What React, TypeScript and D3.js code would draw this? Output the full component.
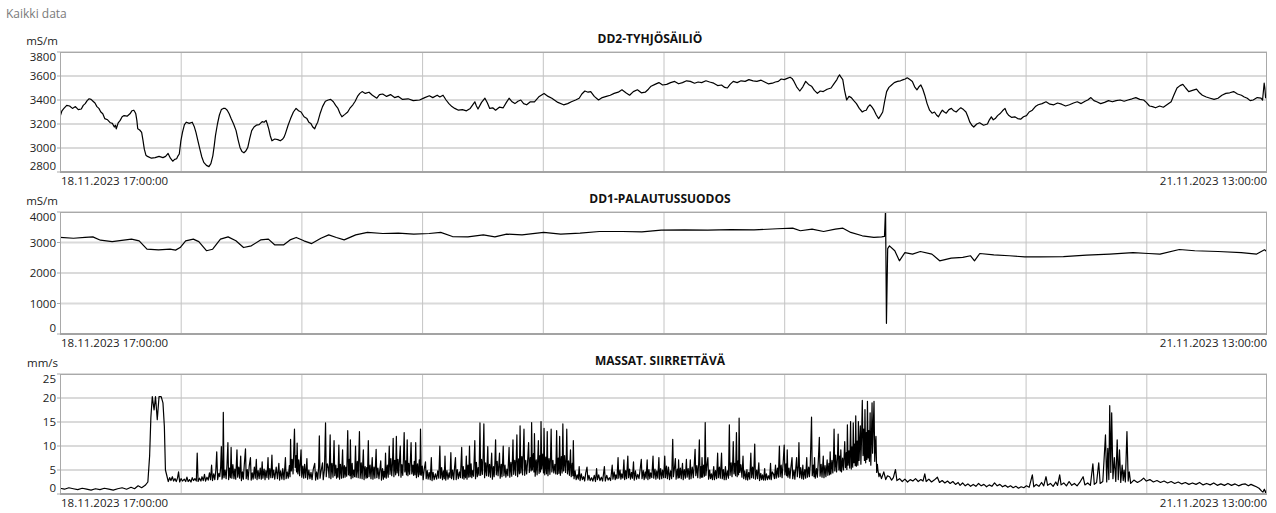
import React from "react";
import * as d3 from "d3";

// Time window shown on all three trends
const startTime = new Date(2023, 10, 18, 17, 0, 0);
const endTime = new Date(2023, 10, 21, 13, 0, 0);
const gridDivisions = 10;

const pageTitle = "Kaikki data";

const dd2Title = "DD2-TYHJÖSÄILIÖ";
const dd2Unit = "mS/m";
const dd2Ticks = [2800, 3000, 3200, 3400, 3600, 3800];
// [hours since start, conductivity mS/m]
const dd2Series: [number, number][] = [
  [0, 3260], [0.11, 3310], [0.22, 3330], [0.38, 3355], [0.54, 3350], [0.7, 3330], [0.87, 3345], [1.03, 3320],
  [1.2, 3325], [1.31, 3355], [1.42, 3370], [1.53, 3395], [1.64, 3410], [1.75, 3405], [1.86, 3390], [1.97, 3375],
  [2.08, 3345], [2.19, 3330], [2.3, 3300], [2.41, 3285], [2.52, 3245], [2.68, 3235], [2.84, 3210], [2.95, 3205],
  [3.06, 3175], [3.12, 3190], [3.17, 3160], [3.28, 3210], [3.39, 3230], [3.5, 3260], [3.61, 3270], [3.78, 3265],
  [3.94, 3285], [4.05, 3310], [4.16, 3315], [4.22, 3300], [4.27, 3285], [4.33, 3230], [4.38, 3160], [4.49, 3150],
  [4.6, 3130], [4.68, 3060], [4.75, 2990], [4.84, 2940], [4.93, 2930], [5.15, 2915], [5.36, 2920], [5.58, 2930],
  [5.8, 2920], [5.95, 2930], [6.09, 2955], [6.22, 2915], [6.35, 2890], [6.46, 2905], [6.57, 2910], [6.65, 2935],
  [6.72, 2950], [6.81, 3060], [6.9, 3130], [7.01, 3195], [7.12, 3215], [7.28, 3205], [7.45, 3215], [7.56, 3180],
  [7.66, 3130], [7.77, 3060], [7.88, 2990], [7.99, 2925], [8.1, 2880], [8.25, 2855], [8.39, 2845], [8.5, 2870],
  [8.61, 2935], [8.69, 3020], [8.76, 3105], [8.87, 3200], [8.98, 3275], [9.09, 3320], [9.2, 3330], [9.31, 3330],
  [9.42, 3315], [9.53, 3285], [9.64, 3245], [9.78, 3200], [9.92, 3145], [10.03, 3070], [10.14, 3005], [10.25, 2970],
  [10.36, 2960], [10.47, 2975], [10.58, 3005], [10.69, 3080], [10.8, 3145], [10.93, 3175], [11.06, 3190], [11.22, 3195],
  [11.39, 3220], [11.5, 3215], [11.61, 3230], [11.68, 3200], [11.76, 3160], [11.85, 3100], [11.94, 3060], [12.1, 3075],
  [12.27, 3070], [12.41, 3060], [12.55, 3075], [12.62, 3090], [12.7, 3120], [12.85, 3190], [12.99, 3245], [13.15, 3300],
  [13.3, 3330], [13.44, 3310], [13.58, 3300], [13.75, 3260], [13.91, 3245], [14.02, 3215], [14.13, 3205], [14.24, 3175],
  [14.35, 3160], [14.43, 3190], [14.52, 3215], [14.66, 3290], [14.79, 3345], [14.95, 3390], [15.11, 3400], [15.25, 3405],
  [15.4, 3385], [15.53, 3355], [15.66, 3330], [15.77, 3290], [15.88, 3260], [16.05, 3280], [16.21, 3300], [16.35, 3335],
  [16.5, 3360], [16.63, 3390], [16.76, 3430], [16.89, 3455], [17.02, 3470], [17.2, 3455], [17.41, 3465], [17.6, 3440],
  [17.85, 3415], [18.0, 3445], [18.18, 3450], [18.4, 3430], [18.62, 3445], [18.85, 3420], [19.06, 3430], [19.3, 3405],
  [19.61, 3410], [19.9, 3395], [20.26, 3400], [20.55, 3420], [20.81, 3435], [21.0, 3420], [21.25, 3440], [21.4, 3425],
  [21.58, 3440], [21.75, 3400], [21.91, 3370], [22.08, 3345], [22.24, 3330], [22.45, 3315], [22.67, 3320], [22.9, 3310],
  [23.11, 3330], [23.25, 3360], [23.37, 3385], [23.46, 3350], [23.55, 3325], [23.75, 3380], [23.94, 3415], [24.08, 3375],
  [24.21, 3330], [24.38, 3335], [24.54, 3315], [24.75, 3340], [24.97, 3335], [25.15, 3380], [25.3, 3415], [25.47, 3385],
  [25.63, 3370], [25.8, 3390], [25.96, 3400], [26.12, 3370], [26.29, 3360], [26.5, 3385], [26.73, 3385], [27.0, 3430],
  [27.27, 3455], [27.5, 3430], [27.71, 3415], [28.05, 3380], [28.37, 3360], [28.6, 3370], [28.81, 3385], [29.05, 3400],
  [29.25, 3415], [29.4, 3450], [29.57, 3475], [29.75, 3465], [29.9, 3470], [30.1, 3430], [30.34, 3400], [30.55, 3420],
  [30.78, 3430], [31.0, 3440], [31.22, 3455], [31.45, 3465], [31.66, 3485], [31.88, 3460], [32.09, 3440], [32.3, 3470],
  [32.53, 3485], [32.75, 3460], [32.97, 3465], [33.15, 3490], [33.3, 3515], [33.52, 3530], [33.74, 3545], [33.95, 3525],
  [34.18, 3530], [34.4, 3545], [34.63, 3555], [34.85, 3535], [35.07, 3545], [35.3, 3560], [35.51, 3555], [35.75, 3540],
  [35.95, 3550], [36.15, 3545], [36.39, 3560], [36.6, 3550], [36.83, 3540], [37.05, 3520], [37.27, 3525], [37.45, 3505],
  [37.6, 3500], [37.75, 3530], [37.93, 3555], [38.15, 3545], [38.37, 3560], [38.6, 3555], [38.81, 3570], [39.05, 3560],
  [39.26, 3555], [39.5, 3565], [39.7, 3550], [39.9, 3535], [40.14, 3540], [40.3, 3550], [40.47, 3555], [40.63, 3575],
  [40.8, 3570], [40.97, 3580], [41.13, 3590], [41.24, 3580], [41.35, 3555], [41.5, 3510], [41.68, 3475], [41.85, 3510],
  [42.01, 3555], [42.17, 3530], [42.34, 3515], [42.5, 3480], [42.67, 3455], [42.83, 3475], [43.0, 3470], [43.22, 3490],
  [43.44, 3500], [43.6, 3535], [43.77, 3570], [43.85, 3595], [43.92, 3610], [44.0, 3590], [44.1, 3570], [44.2, 3480],
  [44.32, 3400], [44.45, 3430], [44.58, 3420], [44.72, 3395], [44.87, 3370], [45.03, 3330], [45.2, 3300], [45.31, 3310],
  [45.42, 3315], [45.53, 3345], [45.64, 3360], [45.75, 3340], [45.86, 3315], [45.99, 3275], [46.12, 3245], [46.23, 3270],
  [46.35, 3300], [46.46, 3390], [46.57, 3470], [46.7, 3505], [46.85, 3525], [47.0, 3545], [47.18, 3555], [47.35, 3560],
  [47.51, 3570], [47.62, 3575], [47.73, 3585], [47.88, 3570], [48.02, 3555], [48.15, 3510], [48.28, 3485], [48.39, 3510],
  [48.5, 3525], [48.61, 3490], [48.72, 3440], [48.85, 3370], [48.99, 3315], [49.13, 3290], [49.27, 3300], [49.38, 3275],
  [49.49, 3260], [49.6, 3290], [49.71, 3315], [49.82, 3300], [49.93, 3290], [50.08, 3320], [50.22, 3330], [50.35, 3310],
  [50.49, 3300], [50.62, 3320], [50.75, 3335], [50.9, 3320], [51.04, 3300], [51.15, 3260], [51.26, 3215], [51.37, 3190],
  [51.48, 3175], [51.65, 3200], [51.81, 3210], [52.03, 3190], [52.25, 3200], [52.36, 3235], [52.47, 3260], [52.58, 3235],
  [52.69, 3245], [52.82, 3270], [52.95, 3285], [53.1, 3310], [53.24, 3330], [53.35, 3290], [53.46, 3270], [53.62, 3255],
  [53.79, 3260], [53.95, 3245], [54.12, 3240], [54.28, 3260], [54.45, 3270], [54.6, 3300], [54.78, 3315], [54.95, 3345],
  [55.11, 3360], [55.33, 3370], [55.55, 3385], [55.77, 3365], [55.99, 3360], [56.2, 3375], [56.43, 3365], [56.65, 3350],
  [56.87, 3360], [57.1, 3375], [57.31, 3385], [57.53, 3370], [57.75, 3390], [57.9, 3400], [58.08, 3420], [58.25, 3395],
  [58.41, 3385], [58.63, 3370], [58.85, 3380], [59.07, 3395], [59.29, 3385], [59.5, 3395], [59.73, 3400], [59.95, 3390],
  [60.17, 3400], [60.4, 3410], [60.61, 3420], [60.83, 3405], [61.05, 3400], [61.2, 3380], [61.38, 3350], [61.55, 3345],
  [61.72, 3335], [61.95, 3350], [62.16, 3340], [62.4, 3365], [62.6, 3385], [62.75, 3440], [62.93, 3500], [63.1, 3520],
  [63.26, 3530], [63.42, 3500], [63.59, 3470], [63.8, 3480], [64.03, 3490], [64.2, 3460], [64.36, 3440], [64.58, 3425],
  [64.8, 3415], [65.02, 3405], [65.24, 3415], [65.46, 3440], [65.68, 3455], [65.9, 3460], [66.12, 3470], [66.34, 3450],
  [66.56, 3440], [66.72, 3425], [66.89, 3415], [67.05, 3395], [67.22, 3400], [67.45, 3420], [67.66, 3415], [67.75, 3400],
  [67.84, 3540], [67.88, 3500], [67.92, 3420], [68, 3410],
];

const dd1Title = "DD1-PALAUTUSSUODOS";
const dd1Unit = "mS/m";
const dd1Ticks = [0, 1000, 2000, 3000, 4000];
const dd1Series: [number, number][] = [
  [0, 3165], [0.76, 3140], [1.41, 3165], [1.85, 3185], [2.28, 3075], [2.94, 3030], [3.59, 3075], [4.03, 3110],
  [4.46, 3055], [4.9, 2780], [5.55, 2760], [6.2, 2780], [6.51, 2750], [6.77, 2835], [7.08, 3055], [7.51, 3110],
  [7.82, 3030], [8.25, 2730], [8.6, 2780], [9.04, 3110], [9.47, 3185], [9.91, 3055], [10.34, 2835], [10.78, 2890],
  [11.3, 3085], [11.74, 3110], [12.09, 2925], [12.61, 2925], [12.96, 3085], [13.31, 3165], [13.74, 3055], [14.18, 2965],
  [14.7, 3140], [15.14, 3250], [15.57, 3165], [16.01, 3085], [16.66, 3250], [17.32, 3330], [18.19, 3295], [19.06, 3305],
  [19.93, 3275], [20.8, 3295], [21.45, 3330], [22.11, 3195], [22.98, 3185], [23.85, 3250], [24.5, 3185], [25.16, 3275],
  [26.03, 3250], [27.25, 3330], [28.21, 3275], [29.3, 3305], [30.39, 3360], [31.69, 3360], [32.78, 3350], [33.87, 3405],
  [35.18, 3415], [36.49, 3405], [37.79, 3425], [39.1, 3415], [40.41, 3450], [41.28, 3470], [41.71, 3385], [42.37, 3440],
  [43.02, 3360], [43.68, 3440], [44.11, 3470], [44.55, 3330], [45.2, 3220], [45.85, 3165], [46.29, 3185], [46.45, 3200],
  [46.51, 4100], [46.56, 350], [46.63, 2800], [46.73, 2890], [47.03, 2730], [47.29, 2400], [47.6, 2670], [48.03, 2620],
  [48.47, 2705], [49.12, 2620], [49.56, 2400], [50.21, 2490], [50.86, 2510], [51.3, 2565], [51.52, 2400], [51.82, 2640],
  [52.61, 2595], [53.48, 2565], [54.35, 2530], [55.22, 2530], [56.53, 2540], [57.83, 2585], [59.14, 2620], [60.45, 2670],
  [61.32, 2640], [61.97, 2620], [63.06, 2770], [63.93, 2730], [65.24, 2705], [66.55, 2670], [67.42, 2620], [67.86, 2760],
  [68, 2700],
];

const massaTitle = "MASSAT. SIIRRETTÄVÄ";
const massaUnit = "mm/s";
const massaTicks = [0, 5, 10, 15, 20, 25];
// [hours since start, speed mm/s]
const massaSeries: [number, number][] = [
  [0, 1.2], [0.25, 1.0], [0.5, 1.3], [0.75, 1.1], [1.0, 0.9], [1.25, 1.2], [1.5, 1.0], [1.75, 0.8], [2.0, 1.1],
  [2.25, 0.9], [2.5, 1.2], [2.75, 1.0], [3.0, 0.8], [3.25, 1.1], [3.5, 1.3], [3.75, 1.0], [4.0, 1.4], [4.2, 1.1],
  [4.4, 1.7], [4.6, 1.3], [4.8, 1.8], [4.95, 2.5], [5.05, 8], [5.12, 16], [5.2, 20.3], [5.3, 17.5], [5.38, 20.3],
  [5.48, 15.5], [5.58, 20.3], [5.7, 20.3], [5.8, 19], [5.88, 14], [5.94, 5],
  [6.02, 3.8], [6.1, 2.6], [6.18, 3.4], [6.25, 2.8], [6.33, 3.6], [6.4, 2.7], [6.48, 3.2], [6.55, 2.6], [6.62, 3.3],
  [6.68, 4.6], [6.74, 2.5], [6.82, 3.2], [6.9, 2.7], [7.0, 3.1], [7.08, 2.6], [7.15, 3.5], [7.22, 2.6], [7.3, 3.0],
  [7.38, 2.5], [7.45, 3.4], [7.52, 2.8], [7.6, 3.2], [7.68, 2.7], [7.73, 8.5], [7.78, 2.6], [7.86, 3.3], [7.94, 2.7],
  [8.0, 3.6], [8.07, 2.8], [8.14, 4.1], [8.2, 2.7], [8.28, 3.5], [8.35, 2.9], [8.42, 4.4], [8.48, 3.0], [8.54, 6],
  [8.59, 2.8], [8.66, 4.2], [8.72, 3.0], [8.78, 5.0], [8.83, 8.8], [8.88, 3.0], [8.95, 4.3], [9.0, 3.6], [9.05, 5.5],
  [9.09, 9.9], [9.13, 3.1], [9.17, 4.0], [9.2, 17], [9.24, 3.4], [9.3, 5.0], [9.36, 3.2], [9.41, 6.2], [9.46, 10.7],
  [9.5, 3.0], [9.55, 5.4], [9.6, 3.4], [9.64, 9.7], [9.68, 3.3], [9.74, 6.1], [9.8, 3.2], [9.85, 5.2], [9.9, 3.1],
  [9.97, 9.2], [10.01, 3.5], [10.07, 5.6], [10.12, 3.3], [10.18, 7.9], [10.22, 2.8], [10.28, 4.6], [10.33, 3.1],
  [10.38, 6.0], [10.45, 9.4], [10.49, 3.2], [10.55, 5.1], [10.6, 3.0], [10.66, 5.8], [10.73, 7.6], [10.77, 2.9],
  [10.83, 4.4], [10.88, 3.1], [10.95, 5.6], [11.0, 3.3], [11.06, 7.2], [11.1, 3.0], [11.16, 4.9], [11.22, 3.2],
  [11.28, 5.4], [11.34, 3.1], [11.39, 6.7], [11.43, 3.3], [11.5, 5.2], [11.55, 3.0], [11.6, 4.9], [11.66, 3.4],
  [11.72, 7.6], [11.76, 3.1], [11.82, 5.3], [11.88, 3.4], [11.94, 8.1], [11.98, 3.4], [12.04, 5.0], [12.1, 3.1],
  [12.18, 5.6], [12.25, 3.2], [12.33, 6.4], [12.37, 2.9], [12.43, 4.8], [12.5, 3.1], [12.55, 5.3], [12.62, 3.0],
  [12.7, 7.6], [12.74, 3.2], [12.8, 4.6], [12.86, 3.3], [12.92, 5.9], [12.96, 3.6], [12.99, 11.4], [13.03, 4.8],
  [13.08, 7.2], [13.13, 4.2], [13.17, 9.0], [13.21, 13.5], [13.25, 5.5], [13.3, 8.0], [13.33, 4.6], [13.36, 10.6],
  [13.4, 4.2], [13.45, 7.1], [13.5, 3.8], [13.54, 6.5], [13.58, 9.2], [13.62, 3.5], [13.68, 5.8], [13.73, 3.3],
  [13.78, 6.2], [13.84, 3.4], [13.91, 7.4], [13.95, 3.1], [14.02, 5.0], [14.08, 3.2], [14.14, 4.5], [14.2, 3.0],
  [14.27, 5.2], [14.35, 6.4], [14.4, 2.9], [14.46, 4.6], [14.52, 3.1], [14.57, 5.5], [14.61, 12.1], [14.65, 3.3],
  [14.72, 5.0], [14.79, 6.5], [14.83, 3.0], [14.9, 5.1], [14.96, 14.8], [15.0, 3.6], [15.06, 6.3], [15.12, 5.4],
  [15.16, 3.4], [15.22, 12.3], [15.26, 3.2], [15.32, 6.4], [15.38, 3.5], [15.44, 11.1], [15.48, 3.8], [15.54, 6.0],
  [15.58, 3.3], [15.62, 5.3], [15.66, 3.5], [15.71, 10.2], [15.75, 3.1], [15.8, 6.2], [15.86, 3.3], [15.92, 9.2],
  [15.96, 3.4], [16.02, 5.9], [16.06, 3.5], [16.1, 5.6], [16.15, 3.7], [16.21, 13.2], [16.25, 4.0], [16.3, 7.2],
  [16.33, 3.8], [16.36, 11.3], [16.4, 3.2], [16.46, 6.4], [16.5, 3.4], [16.55, 5.0], [16.6, 3.6], [16.65, 10],
  [16.69, 3.5], [16.75, 6.8], [16.8, 3.4], [16.87, 13], [16.91, 3.3], [16.97, 6.5], [17.02, 3.2], [17.09, 9.2],
  [17.13, 3.0], [17.19, 5.7], [17.24, 3.3], [17.28, 5.5], [17.32, 3.4], [17.37, 11.1], [17.41, 3.6], [17.47, 6.0],
  [17.52, 3.2], [17.59, 7.6], [17.63, 3.1], [17.69, 5.6], [17.74, 3.3], [17.81, 9.3], [17.85, 3.4], [17.91, 5.4],
  [17.97, 3.2], [18.02, 5.1], [18.07, 6.9], [18.11, 2.9], [18.17, 5.3], [18.22, 3.1], [18.25, 4.7], [18.3, 3.5],
  [18.34, 8.5], [18.38, 3.3], [18.44, 6.0], [18.49, 3.5], [18.55, 10], [18.59, 4.1], [18.64, 7.4], [18.69, 3.8],
  [18.73, 6.3], [18.77, 11.6], [18.81, 3.6], [18.86, 7.0], [18.91, 4.0], [18.95, 12], [18.99, 4.4], [19.04, 7.2],
  [19.08, 3.8], [19.12, 6.6], [19.17, 10], [19.21, 3.5], [19.26, 6.1], [19.31, 3.9], [19.35, 7.5], [19.39, 12.8],
  [19.43, 4.6], [19.48, 6.9], [19.52, 4.0], [19.56, 11.3], [19.6, 3.8], [19.65, 6.4], [19.7, 4.1], [19.74, 7.0],
  [19.78, 10.7], [19.82, 4.2], [19.88, 6.0], [19.92, 3.9], [19.96, 6.8], [20.0, 4.0], [20.04, 10.7], [20.08, 3.4],
  [20.14, 6.3], [20.19, 3.6], [20.24, 7.1], [20.28, 4.0], [20.31, 13.5], [20.35, 3.9], [20.41, 5.8], [20.46, 3.0],
  [20.52, 5.2], [20.59, 6.7], [20.63, 3.2], [20.69, 4.9], [20.74, 3.1], [20.8, 4.5], [20.86, 3.0], [20.92, 7.6],
  [20.96, 2.8], [21.02, 4.5], [21.08, 3.0], [21.15, 4.2], [21.22, 3.1], [21.28, 4.8], [21.34, 3.3], [21.4, 10],
  [21.44, 3.3], [21.5, 5.5], [21.55, 3.0], [21.6, 4.8], [21.65, 3.2], [21.69, 7.9], [21.73, 2.9], [21.8, 4.9],
  [21.86, 3.1], [21.92, 4.4], [21.97, 3.4], [22.02, 8.6], [22.06, 3.2], [22.12, 5.0], [22.18, 3.0], [22.23, 5.6],
  [22.28, 7.6], [22.32, 3.0], [22.38, 5.1], [22.44, 3.2], [22.5, 4.6], [22.56, 3.4], [22.63, 9.7], [22.67, 3.3],
  [22.72, 5.7], [22.76, 3.1], [22.8, 5.0], [22.85, 3.4], [22.89, 7.9], [22.93, 3.1], [22.98, 6.0], [23.03, 3.5],
  [23.07, 10], [23.11, 3.6], [23.16, 6.3], [23.2, 3.4], [23.25, 4.9], [23.3, 3.7], [23.37, 11.1], [23.41, 3.2],
  [23.46, 6.6], [23.51, 3.6], [23.56, 5.5], [23.61, 3.9], [23.66, 14.8], [23.7, 3.9], [23.75, 7.2], [23.8, 4.1],
  [23.84, 8.0], [23.88, 14.6], [23.92, 3.4], [23.98, 6.5], [24.03, 3.8], [24.06, 5.9], [24.1, 9.9], [24.14, 3.7],
  [24.2, 6.2], [24.25, 3.5], [24.28, 5.8], [24.32, 8.5], [24.36, 3.1], [24.42, 5.7], [24.46, 3.6], [24.5, 6.4],
  [24.54, 11.3], [24.58, 4.0], [24.63, 6.8], [24.68, 3.8], [24.72, 5.9], [24.76, 8.5], [24.8, 3.3], [24.86, 6.2],
  [24.9, 3.6], [24.94, 7.0], [24.97, 10], [25.01, 3.8], [25.07, 6.0], [25.12, 3.5], [25.18, 5.2], [25.23, 3.8],
  [25.3, 9.7], [25.34, 3.5], [25.4, 6.6], [25.45, 3.7], [25.49, 7.4], [25.52, 11.3], [25.56, 4.1], [25.62, 7.0],
  [25.67, 3.9], [25.71, 8.2], [25.74, 12.3], [25.78, 3.6], [25.84, 7.3], [25.88, 4.2], [25.92, 14.2], [25.96, 4.4],
  [26.02, 7.8], [26.06, 4.0], [26.1, 8.5], [26.14, 13.5], [26.18, 3.9], [26.24, 7.0], [26.29, 4.2], [26.34, 6.5],
  [26.4, 10.7], [26.44, 4.5], [26.5, 7.6], [26.54, 4.8], [26.57, 14.9], [26.61, 5.0], [26.67, 8.4], [26.7, 4.6],
  [26.73, 12.6], [26.77, 3.7], [26.83, 7.1], [26.88, 4.0], [26.92, 7.9], [26.95, 11.1], [26.99, 4.3], [27.04, 8.0],
  [27.07, 4.6], [27.1, 15.1], [27.14, 5.2], [27.2, 8.3], [27.24, 4.4], [27.27, 13.7], [27.31, 4.0], [27.37, 7.7],
  [27.41, 4.2], [27.45, 13], [27.49, 3.8], [27.55, 7.4], [27.6, 4.1], [27.64, 8.2], [27.67, 13.5], [27.71, 4.6],
  [27.77, 7.0], [27.82, 4.4], [27.88, 6.2], [27.93, 4.2], [27.98, 13.2], [28.02, 4.1], [28.07, 7.5], [28.11, 4.3],
  [28.15, 12], [28.19, 3.9], [28.25, 7.8], [28.29, 4.4], [28.33, 14.6], [28.37, 4.8], [28.43, 8.0], [28.48, 4.5],
  [28.52, 7.4], [28.55, 13.5], [28.59, 4.2], [28.65, 6.9], [28.7, 3.9], [28.76, 9.2], [28.8, 3.6], [28.86, 6.4],
  [28.89, 3.8], [28.92, 11.1], [28.96, 3.2], [29.02, 4.8], [29.08, 3.0], [29.14, 4.0], [29.2, 3.1], [29.25, 5.7],
  [29.3, 2.8], [29.37, 4.2], [29.43, 3.0], [29.5, 3.6], [29.56, 2.7], [29.62, 4.4], [29.69, 5.6], [29.74, 2.9],
  [29.8, 3.9], [29.87, 2.8], [29.95, 3.4], [30.02, 2.7], [30.1, 3.9], [30.17, 2.6], [30.23, 5.3], [30.28, 3.0],
  [30.35, 4.0], [30.42, 2.8], [30.5, 3.5], [30.57, 2.7], [30.62, 4.2], [30.67, 5.7], [30.72, 2.7], [30.8, 3.9],
  [30.88, 2.9], [30.95, 3.4], [31.02, 2.8], [31.07, 4.5], [31.11, 6], [31.15, 3.1], [31.22, 4.6], [31.28, 3.0],
  [31.32, 4.0], [31.38, 3.2], [31.44, 7.6], [31.48, 3.3], [31.55, 5.0], [31.6, 3.1], [31.65, 4.2], [31.71, 3.3],
  [31.77, 7.1], [31.81, 3.0], [31.87, 4.9], [31.92, 3.2], [31.99, 7.9], [32.03, 3.4], [32.09, 5.2], [32.14, 3.1],
  [32.2, 4.5], [32.25, 3.3], [32.31, 6.7], [32.35, 2.9], [32.42, 4.8], [32.48, 3.1], [32.55, 4.1], [32.62, 3.2],
  [32.68, 5.0], [32.75, 7.2], [32.79, 3.2], [32.86, 4.9], [32.91, 3.0], [32.97, 4.6], [33.02, 3.3], [33.08, 7.1],
  [33.12, 3.0], [33.18, 5.1], [33.23, 3.2], [33.28, 4.4], [33.34, 3.4], [33.41, 7.9], [33.45, 3.3], [33.52, 5.2],
  [33.57, 3.1], [33.62, 4.8], [33.68, 3.3], [33.74, 7.6], [33.78, 3.1], [33.84, 5.3], [33.9, 3.2], [33.95, 5.0],
  [34.01, 3.4], [34.07, 7.9], [34.11, 3.4], [34.17, 5.8], [34.22, 3.2], [34.28, 5.6], [34.34, 3.0], [34.4, 4.8],
  [34.46, 3.2], [34.52, 11.4], [34.56, 3.6], [34.62, 5.5], [34.67, 7.4], [34.71, 3.1], [34.78, 5.2], [34.82, 3.3],
  [34.85, 7.1], [34.89, 3.4], [34.95, 5.4], [35.0, 3.2], [35.07, 6.4], [35.11, 3.0], [35.17, 5.1], [35.23, 3.3],
  [35.29, 7.2], [35.33, 3.5], [35.39, 5.3], [35.45, 3.1], [35.51, 7.1], [35.55, 3.2], [35.62, 5.6], [35.68, 3.4],
  [35.73, 6.0], [35.78, 9.3], [35.82, 3.8], [35.88, 5.9], [35.93, 3.4], [35.98, 6.3], [36.02, 11.3], [36.06, 3.3],
  [36.11, 5.7], [36.14, 3.5], [36.17, 7.6], [36.21, 3.5], [36.26, 6.0], [36.31, 3.7], [36.35, 14.9], [36.39, 3.9],
  [36.45, 6.2], [36.5, 7.6], [36.54, 3.1], [36.6, 5.0], [36.65, 3.2], [36.7, 4.2], [36.76, 3.0], [36.83, 5.7],
  [36.87, 3.0], [36.93, 4.9], [36.99, 3.2], [37.05, 8.5], [37.09, 3.4], [37.15, 5.6], [37.2, 3.3], [37.27, 8.5],
  [37.31, 3.2], [37.37, 5.1], [37.42, 3.0], [37.49, 5.7], [37.53, 3.0], [37.6, 4.8], [37.66, 3.3], [37.71, 14.4],
  [37.75, 3.9], [37.81, 6.5], [37.86, 3.6], [37.9, 6.8], [37.93, 10.9], [37.97, 4.2], [38.02, 6.4], [38.06, 3.8],
  [38.11, 12.8], [38.15, 3.6], [38.2, 6.9], [38.23, 4.0], [38.26, 15.8], [38.3, 4.5], [38.36, 6.1], [38.42, 3.5],
  [38.48, 7.9], [38.52, 3.2], [38.58, 4.8], [38.64, 3.0], [38.7, 5.1], [38.74, 2.9], [38.8, 4.5], [38.86, 3.1],
  [38.92, 8.5], [38.96, 3.4], [39.02, 5.6], [39.07, 3.3], [39.1, 6.0], [39.14, 10.4], [39.18, 3.1], [39.25, 5.0],
  [39.3, 3.2], [39.37, 6.5], [39.41, 2.8], [39.48, 4.3], [39.53, 3.0], [39.58, 4.0], [39.64, 2.9], [39.7, 5.3],
  [39.74, 2.9], [39.8, 4.2], [39.86, 3.0], [39.92, 3.8], [39.98, 3.1], [40.03, 6.4], [40.07, 3.0], [40.13, 4.6],
  [40.2, 4.1], [40.25, 3.2], [40.31, 6], [40.35, 3.3], [40.42, 5.4], [40.47, 3.5], [40.53, 10], [40.57, 3.6],
  [40.63, 6.0], [40.68, 3.4], [40.74, 6.5], [40.8, 10.2], [40.84, 4.0], [40.9, 6.3], [40.94, 3.8], [40.97, 9.2],
  [41.01, 3.5], [41.07, 5.4], [41.12, 3.3], [41.18, 5.6], [41.24, 7.6], [41.28, 3.2], [41.35, 5.0], [41.4, 3.1],
  [41.45, 5.3], [41.5, 7.6], [41.54, 3.6], [41.6, 6.0], [41.63, 10.7], [41.67, 3.4], [41.73, 5.5], [41.79, 3.2],
  [41.85, 6], [41.89, 3.1], [41.96, 5.1], [42.01, 3.3], [42.07, 7.6], [42.11, 3.5], [42.18, 5.6], [42.22, 3.6],
  [42.27, 6.2], [42.34, 16], [42.38, 3.8], [42.44, 6.0], [42.48, 3.6], [42.51, 7.6], [42.55, 3.3], [42.62, 5.3],
  [42.67, 3.5], [42.72, 6.8], [42.78, 11.8], [42.82, 3.7], [42.88, 6.2], [42.93, 3.5], [42.97, 5.8], [43.0, 7.9],
  [43.04, 3.4], [43.1, 5.9], [43.15, 3.6], [43.22, 7.1], [43.26, 3.9], [43.32, 6.4], [43.36, 4.0], [43.39, 8.8],
  [43.43, 4.2], [43.49, 7.0], [43.54, 4.4], [43.58, 7.8], [43.61, 13.5], [43.65, 4.8], [43.7, 8.1], [43.75, 4.6],
  [43.8, 7.4], [43.84, 12.5], [43.88, 5.0], [43.93, 7.9], [43.96, 4.8], [43.99, 9.2], [44.03, 4.6], [44.09, 7.5],
  [44.14, 5.0], [44.18, 8.3], [44.21, 10.9], [44.25, 5.5], [44.3, 8.6], [44.33, 5.1], [44.36, 14.4], [44.4, 6.0],
  [44.45, 9.0], [44.49, 5.4], [44.54, 15.1], [44.58, 5.2], [44.62, 9.8], [44.66, 5.6], [44.69, 14.8], [44.73, 6.5],
  [44.77, 10.4], [44.8, 5.9], [44.83, 16.3], [44.87, 5.8], [44.91, 11.0], [44.95, 6.0], [44.98, 15.1], [45.02, 7.0],
  [45.06, 11.5], [45.09, 14.2], [45.12, 6.2], [45.16, 12.0], [45.2, 19.5], [45.24, 8.0], [45.28, 13.5], [45.32, 7.0],
  [45.35, 17.6], [45.39, 6.5], [45.43, 12.8], [45.46, 7.2], [45.49, 19.3], [45.53, 7.5], [45.57, 13.2], [45.6, 6.8],
  [45.64, 16.9], [45.68, 6.0], [45.72, 12.5], [45.75, 19], [45.78, 8.5], [45.82, 14.0], [45.86, 19.3], [45.9, 6.8],
  [45.94, 10.5], [45.97, 12], [46.01, 4.5], [46.05, 6.2], [46.08, 5], [46.14, 3.6], [46.19, 4.3], [46.28, 3.2],
  [46.41, 4.6], [46.52, 3.0], [46.62, 3.8], [46.74, 3.6], [46.85, 2.9], [46.95, 3.4], [47.07, 5.1], [47.15, 2.8],
  [47.3, 3.2], [47.45, 2.6], [47.6, 3.1], [47.75, 2.5], [47.9, 3.0], [48.05, 2.7], [48.2, 3.2], [48.35, 2.6],
  [48.5, 3.0], [48.62, 2.7], [48.72, 4.2], [48.8, 2.6], [48.95, 3.1], [49.1, 2.5], [49.25, 2.9], [49.43, 3.5],
  [49.55, 2.4], [49.7, 2.8], [49.85, 2.3], [50.0, 2.7], [50.15, 2.2], [50.3, 2.6], [50.45, 2.0], [50.6, 2.4],
  [50.71, 1.8], [50.85, 2.3], [51.0, 1.7], [51.15, 2.1], [51.3, 1.6], [51.45, 2.0], [51.6, 1.6], [51.75, 2.2],
  [51.9, 1.7], [52.05, 2.0], [52.2, 1.5], [52.35, 1.9], [52.5, 1.6], [52.65, 2.3], [52.8, 1.7], [52.95, 2.0],
  [53.1, 1.5], [53.25, 1.8], [53.4, 1.4], [53.55, 1.7], [53.7, 1.3], [53.85, 1.6], [54.0, 1.2], [54.15, 1.5],
  [54.3, 1.3], [54.45, 1.7], [54.6, 1.4], [54.78, 4.0], [54.86, 1.5], [55.0, 2.0], [55.15, 1.6], [55.3, 2.4],
  [55.42, 1.7], [55.55, 3.6], [55.64, 1.8], [55.8, 2.2], [55.95, 1.6], [56.1, 2.5], [56.2, 1.8], [56.32, 4],
  [56.4, 1.9], [56.55, 2.3], [56.7, 1.7], [56.85, 2.6], [57.0, 1.8], [57.15, 2.2], [57.3, 1.7], [57.45, 2.4],
  [57.64, 3.6], [57.74, 1.9], [57.9, 2.3], [58.05, 1.8], [58.19, 6.3], [58.27, 2.0], [58.4, 2.4], [58.52, 6.5],
  [58.6, 2.2], [58.75, 2.6], [58.9, 12.3], [58.97, 2.5], [59.03, 9.5], [59.09, 3.0], [59.14, 18.4], [59.2, 4.5],
  [59.25, 16.9], [59.32, 3.2], [59.4, 7.6], [59.48, 2.6], [59.56, 11.3], [59.62, 3.0], [59.69, 9.2], [59.76, 2.4],
  [59.84, 6], [59.9, 2.8], [59.95, 5], [60.02, 2.5], [60.11, 13], [60.18, 2.7], [60.24, 4.6], [60.32, 2.2],
  [60.5, 2.9], [60.7, 2.4], [60.9, 2.8], [61.05, 3.3], [61.2, 2.7], [61.4, 3.0], [61.6, 2.5], [61.8, 2.8],
  [62.0, 2.4], [62.2, 2.7], [62.4, 2.3], [62.6, 2.6], [62.8, 2.2], [63.0, 2.5], [63.2, 2.1], [63.4, 2.4],
  [63.6, 2.0], [63.8, 2.3], [64.0, 2.0], [64.2, 2.4], [64.4, 1.9], [64.6, 2.2], [64.8, 1.9], [65.0, 2.3],
  [65.2, 1.8], [65.4, 2.1], [65.6, 1.8], [65.8, 2.2], [66.0, 1.8], [66.2, 2.1], [66.4, 1.7], [66.6, 2.0],
  [66.78, 2.1], [66.95, 1.7], [67.1, 2.0], [67.22, 1.8], [67.4, 1.5], [67.55, 1.2], [67.7, 0.6], [67.77, 0.4],
  [67.85, 1.0], [67.93, 0.2], [68.0, 1.2],
];

const WIDTH = 1276;
const HEIGHT = 513;
const PLOT_LEFT = 60;
const PLOT_RIGHT = 1267;
const FONT = "'Open Sans', 'Noto Sans', sans-serif";

type Panel = {
  key: string;
  title: string;
  unit: string;
  ticks: number[];
  series: [number, number][];
  top: number;
  bottom: number;
  titleX: number;
};

const panels: Panel[] = [
  { key: "dd2", title: dd2Title, unit: dd2Unit, ticks: dd2Ticks, series: dd2Series, top: 52, bottom: 172, titleX: 650 },
  { key: "dd1", title: dd1Title, unit: dd1Unit, ticks: dd1Ticks, series: dd1Series, top: 212, bottom: 334, titleX: 660 },
  { key: "massa", title: massaTitle, unit: massaUnit, ticks: massaTicks, series: massaSeries, top: 374, bottom: 494, titleX: 660 },
];

const dateFormat = d3.timeFormat("%d.%m.%Y %H:%M:%S");

function TrendPanel({ panel }: { panel: Panel }) {
  const x = d3.scaleTime().domain([startTime, endTime]).range([PLOT_LEFT, PLOT_RIGHT]);
  const y = d3
    .scaleLinear()
    .domain([panel.ticks[0], panel.ticks[panel.ticks.length - 1]])
    .range([panel.bottom, panel.top]);

  const span = endTime.getTime() - startTime.getTime();
  const gridTimes = d3.range(1, gridDivisions).map((i) => new Date(startTime.getTime() + (i * span) / gridDivisions));

  const line = d3
    .line<[number, number]>()
    .x((d) => x(new Date(startTime.getTime() + d[0] * 3600 * 1000)))
    .y((d) => y(d[1]));

  const clipId = `clip-${panel.key}`;
  // end labels are kept inside the plot's height
  const labelY = (v: number) => Math.max(panel.top + 5, Math.min(panel.bottom - 6, y(v)));

  return (
    <g>
      <defs>
        <clipPath id={clipId}>
          <rect x={PLOT_LEFT} y={panel.top} width={PLOT_RIGHT - PLOT_LEFT} height={panel.bottom - panel.top} />
        </clipPath>
      </defs>
      <text x={panel.titleX} y={panel.top - 9} textAnchor="middle" fontWeight="bold" fontSize={12} fill="#111">
        {panel.title}
      </text>
      <text x={58} y={panel.top - 7} textAnchor="end" fontSize={11.5} fill="#222">
        {panel.unit}
      </text>
      {/* horizontal grid */}
      {panel.ticks.map((t) => (
        <line key={`h${t}`} x1={PLOT_LEFT} x2={PLOT_RIGHT} y1={y(t)} y2={y(t)} stroke="#dadada" strokeWidth={2} />
      ))}
      {/* vertical grid */}
      {gridTimes.map((t, i) => (
        <line key={`v${i}`} x1={x(t) + 0.5} x2={x(t) + 0.5} y1={panel.top} y2={panel.bottom} stroke="#c4c4c4" strokeWidth={1} />
      ))}
      <path d={line(panel.series) ?? ""} fill="none" stroke="#000" strokeWidth={1.2} strokeLinejoin="round" clipPath={`url(#${clipId})`} />
      <rect x={PLOT_LEFT + 0.5} y={panel.top + 0.5} width={PLOT_RIGHT - PLOT_LEFT - 1} height={panel.bottom - panel.top - 1} fill="none" stroke="#a9a9a9" strokeWidth={1} />
      <line x1={PLOT_LEFT} x2={PLOT_RIGHT} y1={panel.bottom} y2={panel.bottom} stroke="#a3a3a3" strokeWidth={2} />
      {panel.ticks.map((t) => (
        <g key={`t${t}`}>
          <line x1={57} x2={PLOT_LEFT} y1={y(t)} y2={y(t)} stroke="#a9a9a9" strokeWidth={1} />
          <text x={56} y={labelY(t)} dy="0.35em" textAnchor="end" fontSize={11.5} fill="#222">
            {t}
          </text>
        </g>
      ))}
      <text x={PLOT_LEFT + 1} y={panel.bottom + 13} fontSize={11.5} fill="#222">
        {dateFormat(startTime)}
      </text>
      <text x={PLOT_RIGHT} y={panel.bottom + 13} textAnchor="end" fontSize={11.5} fill="#222">
        {dateFormat(endTime)}
      </text>
    </g>
  );
}

export default function App() {
  return (
    <svg
      width={WIDTH}
      height={HEIGHT}
      style={{ position: "absolute", left: 0, top: 0, background: "#fff" }}
      fontFamily={FONT}
    >
      <rect width={WIDTH} height={HEIGHT} fill="#fff" />
      <text x={6} y={18} fontSize={12} fill="#7a7a7a">
        {pageTitle}
      </text>
      {panels.map((p) => (
        <TrendPanel key={p.key} panel={p} />
      ))}
    </svg>
  );
}
